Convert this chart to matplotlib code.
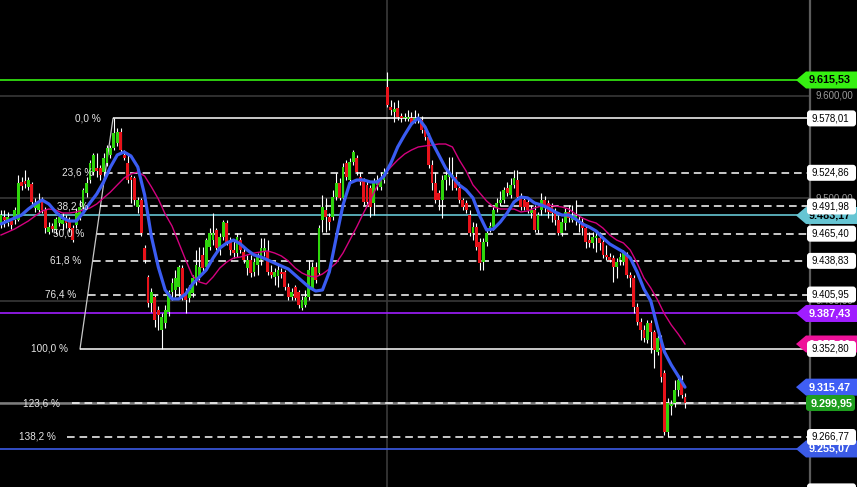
import matplotlib
matplotlib.use("Agg")
import matplotlib.pyplot as plt
import numpy as np
from matplotlib.path import Path

plt.rcParams['font.family'] = ['Liberation Sans', 'DejaVu Sans']

# ---- candle data (index = bar number) ----
opens = [
    9473.9, 9481.7, 9475.8, 9477.8, 9478.8, 9478.8, 9515.9, 9516.9, 9511.0, 9514.0,
    9490.5, 9488.5, 9498.3, 9488.5, 9467.0, 9472.9, 9469.0, 9475.8, 9474.9, 9480.7,
    9478.8, 9470.9, 9473.9, 9481.7, 9491.5, 9505.1, 9517.9, 9525.7, 9529.6, 9529.6,
    9525.7, 9534.4, 9542.3, 9549.1, 9554.0, 9564.7, 9542.3, 9534.4, 9520.8, 9519.8,
    9491.5, 9498.3, 9451.4, 9423.1, 9397.7, 9403.5, 9390.8, 9371.3, 9378.1, 9388.9,
    9408.4, 9410.4, 9413.3, 9431.9, 9407.4, 9402.5, 9407.4, 9420.1, 9423.1, 9444.6,
    9432.8, 9452.4, 9459.2, 9469.0, 9451.4, 9462.2, 9475.8, 9459.2, 9449.5, 9446.5,
    9459.2, 9447.5, 9431.9, 9439.7, 9427.9, 9434.8, 9439.7, 9447.5, 9447.5, 9427.9,
    9423.1, 9424.0, 9427.9, 9427.9, 9413.3, 9403.5, 9413.3, 9408.4, 9392.8, 9395.7,
    9403.5, 9412.3, 9432.8, 9427.0, 9478.8, 9488.5, 9481.7, 9481.7, 9501.2, 9514.9,
    9500.3, 9534.4, 9517.9, 9535.4, 9539.3, 9520.8, 9517.9, 9513.0, 9510.0, 9495.4,
    9513.0, 9511.0, 9517.9, 9608.7, 9589.2, 9584.3, 9588.2, 9580.4, 9578.4, 9577.4,
    9578.4, 9576.5, 9577.4, 9576.5, 9566.7, 9559.9, 9532.5, 9514.9, 9505.1, 9498.3,
    9517.9, 9520.8, 9519.8, 9520.8, 9510.0, 9498.3, 9495.4, 9483.6, 9466.1, 9471.9,
    9457.3, 9437.7, 9457.3, 9469.0, 9471.9, 9490.5, 9495.4, 9498.3, 9510.0, 9503.2,
    9513.0, 9517.9, 9501.2, 9498.3, 9496.3, 9485.6, 9488.5, 9469.0, 9488.5, 9498.3,
    9495.4, 9491.5, 9486.6, 9478.8, 9466.1, 9475.8, 9486.6, 9478.8, 9480.7, 9478.8,
    9476.8, 9470.9, 9459.2, 9456.3, 9461.2, 9461.2, 9457.3, 9444.6, 9442.6, 9441.6,
    9432.8, 9439.7, 9437.7, 9444.6, 9425.0, 9422.1, 9393.7, 9379.1, 9371.3, 9361.5,
    9378.1, 9369.3, 9349.8, 9363.5, 9329.3, 9271.6, 9297.0, 9300.0, 9312.7, 9322.4,
    9305.8,
]
highs = [
    9488.5, 9488.5, 9486.6, 9480.7, 9491.5, 9522.7, 9520.8, 9527.6, 9520.8, 9515.9,
    9500.3, 9505.1, 9501.2, 9491.5, 9476.8, 9475.8, 9481.7, 9485.6, 9485.6, 9483.6,
    9481.7, 9473.9, 9490.5, 9498.3, 9510.0, 9520.8, 9537.4, 9544.2, 9544.2, 9532.5,
    9544.2, 9552.0, 9552.0, 9578.01, 9568.6, 9568.6, 9547.2, 9542.3, 9522.7, 9521.7,
    9501.2, 9500.3, 9454.3, 9425.0, 9412.3, 9405.5, 9394.7, 9387.9, 9395.7, 9410.4,
    9422.1, 9429.9, 9434.8, 9434.8, 9412.3, 9415.3, 9425.0, 9449.5, 9452.4, 9452.4,
    9461.2, 9470.9, 9485.6, 9470.9, 9466.1, 9478.8, 9478.8, 9462.2, 9459.2, 9466.1,
    9462.2, 9451.4, 9444.6, 9444.6, 9441.6, 9446.5, 9461.2, 9461.2, 9459.2, 9434.8,
    9431.9, 9434.8, 9431.9, 9429.9, 9417.2, 9412.3, 9415.3, 9410.4, 9404.5, 9410.4,
    9439.7, 9437.7, 9437.7, 9473.9, 9503.2, 9500.3, 9485.6, 9508.1, 9524.7, 9519.8,
    9534.4, 9537.4, 9539.3, 9547.2, 9542.3, 9525.7, 9519.8, 9517.9, 9513.0, 9519.8,
    9522.7, 9525.7, 9529.6, 9623.4, 9596.0, 9594.0, 9596.0, 9583.3, 9583.3, 9586.2,
    9584.3, 9586.2, 9583.3, 9580.4, 9569.6, 9563.8, 9537.4, 9525.7, 9508.1, 9522.7,
    9529.6, 9540.3, 9540.3, 9525.7, 9515.9, 9500.3, 9498.3, 9488.5, 9476.8, 9475.8,
    9461.2, 9461.2, 9470.9, 9476.8, 9493.4, 9500.3, 9507.1, 9511.0, 9515.9, 9519.8,
    9527.6, 9527.6, 9505.1, 9501.2, 9500.3, 9493.4, 9493.4, 9486.6, 9505.1, 9502.2,
    9498.3, 9495.4, 9490.5, 9483.6, 9480.7, 9490.5, 9493.4, 9493.4, 9498.3, 9483.6,
    9480.7, 9473.9, 9467.0, 9467.0, 9469.0, 9467.0, 9461.2, 9454.3, 9446.5, 9444.6,
    9441.6, 9446.5, 9449.5, 9447.5, 9427.9, 9425.0, 9397.7, 9383.0, 9376.2, 9381.1,
    9381.1, 9371.3, 9366.4, 9366.4, 9332.2, 9304.9, 9302.9, 9322.4, 9327.3, 9327.3,
    9309.7,
]
lows = [
    9470.9, 9471.9, 9472.9, 9470.0, 9474.9, 9477.8, 9508.1, 9510.0, 9508.1, 9493.4,
    9486.6, 9485.6, 9485.6, 9466.1, 9465.1, 9467.0, 9465.1, 9472.9, 9469.0, 9470.9,
    9467.0, 9457.3, 9470.9, 9478.8, 9488.5, 9501.2, 9514.9, 9522.7, 9520.8, 9517.9,
    9520.8, 9531.5, 9539.3, 9547.2, 9551.1, 9545.2, 9537.4, 9514.9, 9495.4, 9493.4,
    9485.6, 9463.1, 9436.7, 9393.7, 9388.9, 9374.2, 9371.3, 9352.8, 9373.2, 9385.0,
    9400.6, 9403.5, 9403.5, 9400.6, 9387.9, 9398.6, 9403.5, 9415.3, 9420.1, 9427.9,
    9429.9, 9449.5, 9454.3, 9449.5, 9444.6, 9459.2, 9454.3, 9444.6, 9441.6, 9442.6,
    9446.5, 9436.7, 9425.0, 9423.1, 9424.0, 9425.0, 9434.8, 9443.6, 9425.0, 9422.1,
    9415.3, 9413.3, 9422.1, 9410.4, 9400.6, 9400.6, 9400.6, 9392.8, 9390.8, 9393.7,
    9400.6, 9410.4, 9417.2, 9425.0, 9467.0, 9467.0, 9469.0, 9478.8, 9498.3, 9498.3,
    9498.3, 9517.9, 9514.9, 9532.5, 9522.7, 9513.0, 9493.4, 9493.4, 9481.7, 9483.6,
    9508.1, 9508.1, 9514.9, 9589.2, 9581.3, 9574.5, 9576.5, 9574.5, 9575.5, 9575.5,
    9571.6, 9573.5, 9573.5, 9563.8, 9556.9, 9529.6, 9508.1, 9495.4, 9488.5, 9480.7,
    9508.1, 9513.0, 9508.1, 9508.1, 9495.4, 9488.5, 9485.6, 9463.1, 9459.2, 9449.5,
    9429.9, 9429.9, 9453.4, 9467.0, 9469.0, 9486.6, 9492.4, 9495.4, 9502.2, 9500.3,
    9510.0, 9498.3, 9488.5, 9488.5, 9485.6, 9480.7, 9467.0, 9466.1, 9483.6, 9486.6,
    9480.7, 9476.8, 9473.9, 9464.1, 9463.1, 9469.0, 9476.8, 9476.8, 9473.9, 9467.0,
    9464.1, 9451.4, 9452.4, 9451.4, 9447.5, 9449.5, 9441.6, 9439.7, 9437.7, 9418.2,
    9422.1, 9434.8, 9434.8, 9422.1, 9413.3, 9387.9, 9376.2, 9361.5, 9359.6, 9358.6,
    9348.8, 9334.2, 9346.9, 9320.5, 9268.7, 9266.7, 9288.3, 9296.1, 9306.8, 9304.9,
    9295.1,
]
closes = [
    9483.6, 9478.8, 9481.7, 9473.9, 9488.5, 9514.9, 9512.0, 9514.0, 9517.9, 9496.3,
    9495.4, 9495.4, 9488.5, 9470.9, 9471.9, 9470.0, 9479.7, 9481.7, 9478.8, 9475.8,
    9470.9, 9459.2, 9485.6, 9491.5, 9508.1, 9514.9, 9534.4, 9542.3, 9526.6, 9522.7,
    9539.3, 9549.1, 9549.1, 9563.8, 9564.7, 9547.2, 9539.3, 9517.9, 9517.9, 9498.3,
    9498.3, 9466.1, 9439.7, 9397.7, 9408.4, 9381.1, 9385.9, 9384.0, 9390.8, 9408.4,
    9417.2, 9422.1, 9432.8, 9403.5, 9400.6, 9410.4, 9422.1, 9434.8, 9432.8, 9431.9,
    9459.2, 9466.1, 9466.1, 9451.4, 9462.2, 9476.8, 9456.3, 9449.5, 9446.5, 9462.2,
    9449.5, 9439.7, 9439.7, 9427.0, 9437.7, 9442.6, 9451.4, 9451.4, 9427.9, 9425.0,
    9427.9, 9429.9, 9426.0, 9413.3, 9403.5, 9408.4, 9402.5, 9395.7, 9400.6, 9403.5,
    9429.9, 9432.8, 9420.1, 9470.9, 9491.5, 9481.7, 9476.8, 9501.2, 9514.9, 9500.3,
    9530.5, 9520.8, 9535.4, 9545.2, 9525.7, 9515.9, 9496.3, 9496.3, 9491.5, 9515.9,
    9517.9, 9519.8, 9525.7, 9591.1, 9586.2, 9587.2, 9579.4, 9578.4, 9579.4, 9579.4,
    9573.5, 9578.4, 9579.4, 9566.7, 9559.9, 9532.5, 9514.9, 9498.3, 9498.3, 9517.9,
    9522.7, 9524.7, 9522.7, 9510.0, 9498.3, 9491.5, 9488.5, 9466.1, 9471.9, 9452.4,
    9436.7, 9457.3, 9466.1, 9472.9, 9488.5, 9495.4, 9498.3, 9508.1, 9505.1, 9513.0,
    9519.8, 9501.2, 9491.5, 9491.5, 9488.5, 9488.5, 9469.0, 9483.6, 9498.3, 9491.5,
    9486.6, 9485.6, 9478.8, 9466.1, 9476.8, 9486.6, 9480.7, 9480.7, 9482.7, 9475.8,
    9470.9, 9457.3, 9456.3, 9462.2, 9463.1, 9456.3, 9444.6, 9442.6, 9439.7, 9432.8,
    9437.7, 9442.6, 9446.5, 9425.0, 9422.1, 9393.7, 9379.1, 9371.3, 9363.5, 9378.1,
    9369.3, 9351.7, 9363.5, 9325.4, 9271.6, 9300.0, 9299.0, 9312.7, 9322.4, 9307.8,
    9299.95,
]

# moving averages, read every 2 bars
ma_step = 2
ma_fast = [
    9474.9, 9477.8, 9480.7, 9483.6, 9489.5, 9494.4, 9498.3, 9494.4, 9486.6, 9480.7,
    9477.8, 9477.8, 9485.6, 9495.4, 9504.2, 9515.9, 9530.5, 9542.3, 9545.2, 9541.3,
    9530.5, 9503.2, 9462.2, 9432.8, 9410.4, 9401.6, 9401.6, 9406.5, 9416.2, 9423.1,
    9429.9, 9441.6, 9451.4, 9456.3, 9459.2, 9455.3, 9449.4, 9444.6, 9442.6, 9439.7,
    9436.7, 9433.8, 9430.9, 9425.0, 9419.2, 9413.3, 9409.4, 9410.4, 9428.0, 9461.2,
    9493.4, 9514.9, 9517.8, 9517.9, 9515.9, 9515.9, 9521.7, 9534.4, 9550.1, 9561.8,
    9572.6, 9578.4, 9569.6, 9555.0, 9542.3, 9529.6, 9520.8, 9513.0, 9508.1, 9500.3,
    9482.7, 9469.0, 9470.0, 9476.8, 9485.6, 9496.3, 9501.2, 9500.3, 9495.4, 9493.4,
    9490.5, 9486.6, 9483.6, 9483.6, 9479.7, 9474.9, 9471.9, 9468.0, 9461.2, 9455.3,
    9451.4, 9447.5, 9441.6, 9427.9, 9411.3, 9399.6, 9373.2, 9349.8, 9337.1, 9326.4,
    9315.47,
]
ma_slow = [
    9464.1, 9467.0, 9470.0, 9473.9, 9477.8, 9482.7, 9487.6, 9489.5, 9488.5, 9485.6,
    9485.6, 9486.6, 9488.5, 9490.5, 9494.4, 9500.3, 9506.1, 9513.0, 9519.8, 9523.7,
    9525.7, 9521.7, 9511.0, 9499.3, 9484.6, 9472.9, 9456.3, 9439.7, 9424.0, 9418.2,
    9416.2, 9423.1, 9431.9, 9437.7, 9441.6, 9442.6, 9444.6, 9446.5, 9447.5, 9448.5,
    9446.5, 9443.6, 9438.7, 9431.9, 9427.0, 9424.0, 9423.1, 9426.0, 9430.9, 9436.7,
    9446.5, 9459.2, 9471.9, 9485.6, 9498.3, 9512.0, 9522.7, 9530.5, 9537.4, 9543.2,
    9547.1, 9550.1, 9551.1, 9552.0, 9553.0, 9553.0, 9550.1, 9537.4, 9526.6, 9513.0,
    9505.1, 9497.3, 9491.5, 9489.5, 9489.5, 9489.5, 9486.6, 9487.6, 9490.5, 9492.4,
    9493.4, 9492.4, 9491.5, 9489.5, 9484.6, 9480.7, 9477.8, 9475.8, 9470.9, 9464.1,
    9459.2, 9456.3, 9449.4, 9436.7, 9422.1, 9412.3, 9400.6, 9386.9, 9376.2, 9367.4,
    9357.6,
]

# fibonacci retracement (anchor bars: swing low / swing high)
fib_anchor_bars = (23.1, 32.75)
fib_ratios = [0.0, 0.236, 0.382, 0.5, 0.618, 0.764, 1.0, 1.236, 1.382, 1.618]
fib_names = ["0,0 %", "23,6 %", "38,2 %", "50,0 %", "61,8 %", "76,4 %",
             "100,0 %", "123,6 %", "138,2 %", "161,8 %"]
fib_values = [9578.01, 9524.86, 9491.98, 9465.40, 9438.83, 9405.95,
              9352.80, 9299.65, 9266.77, 9213.62]

# other horizontal levels: (price, colour, text colour)
levels = [
    (9615.53, '#36f012', 'black'),
    (9483.17, '#66c5d3', 'black'),
    (9387.43, '#a01dff', 'white'),
    (9255.07, '#3b5be6', 'white'),
]
grid_prices = [9600, 9500, 9400, 9300]
last_price = 9299.95
session_bar = 113

W, H = 857, 487
bar_px = 3.42


def px_to_bar(px):
    return (px - 1) / bar_px


def fmt(v):
    s = f"{v:,.2f}"
    return s.replace(",", " ").replace(".", ",").replace(" ", ".")


def rounded_box(x0, y0, width, height, mutation_size):
    yc = y0 + height / 2
    l, r = x0 - 5, x0 - 5 + 49
    b, t = yc - 8, yc + 8
    rad = 3
    verts = [(l + rad, b), (r - rad, b), (r, b), (r, b + rad), (r, t - rad), (r, t),
             (r - rad, t), (l + rad, t), (l, t), (l, t - rad), (l, b + rad), (l, b),
             (l + rad, b), (l + rad, b)]
    codes = [Path.MOVETO, Path.LINETO, Path.CURVE3, Path.CURVE3, Path.LINETO,
             Path.CURVE3, Path.CURVE3, Path.LINETO, Path.CURVE3, Path.CURVE3,
             Path.LINETO, Path.CURVE3, Path.CURVE3, Path.CLOSEPOLY]
    return Path(verts, codes)


def pointer_box(x0, y0, width, height, mutation_size):
    yc = y0 + height / 2
    l = x0 - 3
    verts = [(l - 10, yc), (l, yc + 8.5), (l + 70, yc + 8.5),
             (l + 70, yc - 8.5), (l, yc - 8.5), (l - 10, yc)]
    return Path(verts, closed=True)


fig = plt.figure(figsize=(W / 100, H / 100), dpi=100, facecolor='black')
ax = fig.add_axes([0, 0, 1, 1])
ax.set_axis_off()
ax.set_xlim(px_to_bar(0), px_to_bar(W))
price_top = 9615.53 + 80 / 1.0236
ax.set_ylim(price_top - H / 1.0236, price_top)
axis_bar = px_to_bar(810)
axis_frac = 810 / W
ylab = ax.get_yaxis_transform()

# grid, session separator and right axis line
for g in grid_prices:
    ax.axhline(g, xmax=axis_frac, color='#303030', lw=1.4, zorder=1)
ax.axvline(session_bar, color='#3a3a3a', lw=1.2, zorder=1)
ax.axvline(axis_bar, color='#5c5c5c', lw=1.6, zorder=1)
ax.axhline(last_price, xmax=axis_frac, color='#7d7d7d', lw=1.8, zorder=1.5)

for price, col, _ in levels:
    ax.axhline(price, xmax=axis_frac, color=col, lw=1.2, zorder=2)

# fibonacci drawing
a_bar, b_bar = fib_anchor_bars
ax.plot([a_bar, b_bar], [fib_values[6], fib_values[0]], color='#c8c8c8', lw=0.9, zorder=2.5)
for ratio, name, val in zip(fib_ratios, fib_names, fib_values):
    start = b_bar - (b_bar - a_bar) * ratio
    style = '-' if ratio in (0.0, 1.0) else (0, (5.0, 3.2))
    ax.hlines(val, start, axis_bar, colors='white', lw=1.1, linestyles=[style], zorder=2.5)
    ax.annotate(name, xy=(start, val), xytext=(-8.5, 0), textcoords='offset points',
                ha='right', va='center', fontsize=7.2, color='#e6e6e6', zorder=7)

# candles
o = np.array(opens)
c = np.array(closes)
h = np.maximum(np.array(highs), np.maximum(o, c))
l = np.minimum(np.array(lows), np.minimum(o, c))
x = np.arange(len(c))
body_col = np.where(c >= o, '#2fd60c', '#e8121a')
ax.vlines(x, l, h, color='white', lw=0.8, zorder=3)
ax.bar(x, np.maximum(np.abs(c - o), 0.9), bottom=np.minimum(o, c), width=0.82,
       color=body_col, linewidth=0, zorder=4)

# moving averages
ma_x = np.arange(len(ma_fast)) * ma_step
ax.plot(ma_x, ma_slow, color='#d4007f', lw=1.0, zorder=5)
ax.plot(ma_x, ma_fast, color='#3a5cf2', lw=2.3, zorder=6,
        solid_capstyle='round', solid_joinstyle='round')

# right axis tick labels
for g in grid_prices:
    ax.text(816 / W, g, fmt(g), transform=ylab, ha='left', va='center',
            fontsize=7, color='#9a9a9a', zorder=8)

# pointer labels
pointer_items = [(p, col, tc) for p, col, tc in levels]
pointer_items.append((ma_slow[-1], '#ee1199', 'white'))
pointer_items.append((ma_fast[-1], '#3f5ef5', 'white'))
for price, col, tc in pointer_items:
    ax.text(809 / W, price, fmt(price), transform=ylab, ha='left', va='center',
            fontsize=7.8, fontweight='bold', color=tc, zorder=9, clip_on=False,
            bbox=dict(boxstyle=pointer_box, facecolor=col, edgecolor='none'))

# fibonacci value boxes (the 123.6 % box sits under the last-price box)
for ratio, val in zip(fib_ratios, fib_values):
    if abs(val - last_price) < 5:
        continue
    ax.text(812 / W, val, fmt(val), transform=ylab, ha='left', va='center',
            fontsize=7, color='black', zorder=10, clip_on=False,
            bbox=dict(boxstyle=rounded_box, facecolor='white', edgecolor='none'))

# last price box
ax.text(811 / W, last_price, fmt(last_price), transform=ylab, ha='left', va='center',
        fontsize=7.8, fontweight='bold', color='white', zorder=11, clip_on=False,
        bbox=dict(boxstyle=rounded_box, facecolor='#1e9e1e', edgecolor='none'))

fig.savefig('out.png', dpi=100, facecolor='black')
